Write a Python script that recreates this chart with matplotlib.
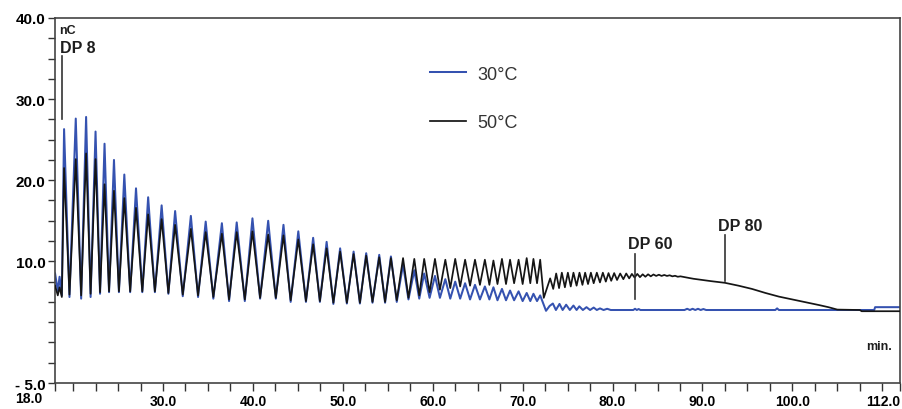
import matplotlib
matplotlib.use("Agg")
import matplotlib.pyplot as plt
from matplotlib.ticker import FixedLocator

plt.rcParams['font.family'] = ['Liberation Sans', 'DejaVu Sans']

# peak apex times (min), shared by both runs in the ladder region
peak_t = [19.0, 20.3, 21.45, 22.5, 23.5, 24.55, 25.7, 27.0, 28.35, 29.85, 31.35,
          33.1, 34.75, 36.55, 38.2, 39.95, 41.7, 43.4, 45.05, 46.7, 48.2, 49.7,
          51.2, 52.6, 54.05, 55.35, 56.7, 57.95, 59.05, 60.25, 61.4, 62.5, 63.6,
          64.7, 65.8, 66.75, 67.7, 68.6, 69.55, 70.45, 71.2, 71.95]
# valley times between consecutive peaks
valley_t = [19.6, 20.9, 21.95, 23.0, 24.0, 25.1, 26.35, 27.7, 29.1, 30.6, 32.2,
            33.9, 35.6, 37.35, 39.1, 40.8, 42.55, 44.2, 45.9, 47.45, 48.95, 50.45,
            51.9, 53.3, 54.7, 56.0, 57.3, 58.5, 59.65, 60.8, 61.95, 63.05, 64.15,
            65.25, 66.3, 67.2, 68.15, 69.05, 70.0, 70.85, 71.6]

blue_peak = [26.3, 27.6, 27.8, 26.0, 24.5, 22.5, 20.7, 19.0, 17.9, 16.9, 16.2,
             15.6, 14.9, 14.7, 14.8, 15.3, 15.0, 14.5, 13.7, 12.9, 12.4, 11.6,
             11.2, 11.0, 10.8, 10.6, 9.6, 8.9, 8.5, 8.2, 7.8, 7.5, 7.3,
             7.1, 6.9, 6.8, 6.6, 6.4, 6.3, 6.1, 6.0, 5.8]
blue_valley = [5.6, 5.4, 5.6, 6.0, 6.2, 6.2, 6.2, 6.2, 6.2, 6.0, 5.7,
               5.6, 5.4, 5.1, 5.1, 5.4, 5.4, 5.0, 5.0, 5.0, 4.75, 4.8,
               4.8, 4.9, 4.9, 5.0, 5.3, 5.4, 5.5, 5.5, 5.4, 5.4, 5.3,
               5.3, 5.3, 5.2, 5.2, 5.2, 5.1, 5.1, 5.1]

black_peak = [21.5, 22.6, 23.3, 22.6, 19.5, 18.7, 17.8, 16.6, 15.8, 15.2, 14.5,
              14.0, 13.6, 13.4, 13.6, 13.7, 13.3, 13.2, 12.7, 12.1, 11.6, 11.2,
              10.9, 10.7, 10.5, 10.4, 10.4, 10.3, 10.3, 10.3, 10.2, 10.3, 10.2,
              10.2, 10.2, 10.1, 10.3, 10.2, 10.2, 10.4, 10.3, 10.2]
black_valley = [5.9, 5.8, 6.0, 6.2, 6.3, 6.3, 6.3, 6.3, 6.3, 6.1, 5.9,
                5.8, 5.6, 5.3, 5.3, 5.5, 5.5, 5.2, 5.1, 5.1, 4.9, 4.9,
                4.9, 5.0, 5.0, 5.2, 5.5, 5.8, 6.2, 6.5, 6.7, 6.9, 7.0,
                7.1, 7.1, 7.2, 7.2, 7.3, 7.2, 7.3, 7.3]

# start of the runs, before DP 8
blue_head_t = [18.0, 18.3, 18.5, 18.75]
blue_head_v = [8.5, 6.4, 8.1, 5.8]
black_head_t = [18.0, 18.3, 18.5, 18.75]
black_head_v = [7.0, 5.8, 6.8, 5.6]

# after the step at ~72 min
blue_tail_t = [72.6, 73.0, 73.36, 73.7, 74.1, 74.45, 74.84, 75.25, 75.65, 76.0,
               76.3, 76.7, 77.1, 77.5, 77.9, 78.25, 78.6, 79.0, 79.4, 79.8,
               82.3, 82.5, 82.7, 82.9, 83.1, 88.0, 88.3, 88.6, 88.9, 89.2,
               89.5, 89.8, 90.1, 90.4, 98.1, 98.3, 98.5, 109.1, 109.2, 112.0]
blue_tail_v = [3.9, 4.5, 4.8, 4.0, 4.75, 4.0, 4.65, 4.0, 4.55, 4.0,
               4.45, 4.0, 4.35, 4.0, 4.3, 4.0, 4.2, 4.0, 4.15, 4.0,
               4.0, 4.15, 4.0, 4.12, 4.0, 4.0, 4.15, 4.0, 4.15, 4.0,
               4.15, 4.0, 4.12, 4.0, 4.0, 4.2, 4.0, 4.0, 4.35, 4.35]

black_tail_t = [72.35, 73.06, 73.4, 73.73, 74.05, 74.36, 74.7, 75.03, 75.35, 75.65,
                76.0, 76.32, 76.65, 76.95, 77.27, 77.59, 77.9, 78.25, 78.6, 78.92,
                79.25, 79.55, 79.85, 80.18, 80.5, 80.85, 81.2, 81.52, 81.85, 82.15,
                82.45, 82.75, 83.05, 83.35, 83.65, 83.95, 84.25, 84.55, 84.85, 85.15,
                85.45, 85.75, 86.05, 86.35, 86.65, 86.95, 87.25, 87.55, 88.0, 88.5,
                89.0, 90.0, 91.0, 92.5, 94.0, 95.5, 97.0, 98.5, 100.0, 101.5,
                103.0, 104.0, 105.0, 107.5, 107.7, 112.0]
black_tail_v = [5.5, 7.9, 6.6, 8.5, 6.7, 8.6, 6.8, 8.6, 6.9, 8.6,
                7.0, 8.6, 7.1, 8.6, 7.2, 8.6, 7.3, 8.6, 7.4, 8.6,
                7.5, 8.55, 7.6, 8.55, 7.7, 8.5, 7.8, 8.5, 7.9, 8.45,
                8.0, 8.45, 8.05, 8.4, 8.1, 8.4, 8.15, 8.38, 8.2, 8.35,
                8.2, 8.32, 8.2, 8.28, 8.15, 8.22, 8.1, 8.15, 8.05, 7.95,
                7.85, 7.7, 7.55, 7.35, 7.0, 6.6, 6.1, 5.65, 5.3, 4.95,
                4.6, 4.35, 4.05, 4.0, 3.85, 3.85]

x_major = [18, 30, 40, 50, 60, 70, 80, 90, 100, 112]
x_labels = ['', '30.0', '40.0', '50.0', '60.0', '70.0', '80.0', '90.0', '100.0', '112.0']
x_minor = [20, 22.5, 25, 27.5, 32.5, 35, 37.5, 42.5, 45, 47.5, 52.5, 55, 57.5,
           62.5, 65, 67.5, 72.5, 75, 77.5, 82.5, 85, 87.5, 92.5, 95, 97.5,
           102.5, 105, 107.5, 110]
y_major = [40, 30, 20, 10, -5]
y_labels = ['40.0', '30.0', '20.0', '10.0', '- 5.0']
y_minor = [37.5, 35, 32.5, 27.5, 25, 22.5, 17.5, 15, 12.5, 7.5, 5, 2.5, 0, -2.5]


def trace(head_t, head_v, pk, vl, tail_t, tail_v):
    t = list(head_t)
    v = list(head_v)
    for i in range(len(peak_t)):
        t.append(peak_t[i])
        v.append(pk[i])
        if i < len(valley_t):
            t.append(valley_t[i])
            v.append(vl[i])
    return t + tail_t, v + tail_v


bt, bv = trace(blue_head_t, blue_head_v, blue_peak, blue_valley, blue_tail_t, blue_tail_v)
kt, kv = trace(black_head_t, black_head_v, black_peak, black_valley, black_tail_t, black_tail_v)

fig = plt.figure(figsize=(9.03, 4.10), dpi=100)
ax = fig.add_axes([0.061, 0.0634, 0.936, 0.8903])

blue = '#3552b0'
ax.plot(bt, bv, color=blue, lw=1.45, label='30°C', zorder=2, solid_joinstyle='round')
ax.plot(kt, kv, color='#151515', lw=1.25, label='50°C', zorder=3, solid_joinstyle='round')

ax.set_xlim(18, 112)
ax.set_ylim(-5, 40)

ax.xaxis.set_major_locator(FixedLocator(x_major))
ax.xaxis.set_minor_locator(FixedLocator(x_minor))
ax.set_xticklabels(x_labels)
ax.yaxis.set_major_locator(FixedLocator(y_major))
ax.yaxis.set_minor_locator(FixedLocator(y_minor))
ax.set_yticklabels(y_labels)

ax.tick_params(axis='both', which='both', direction='out', color='#333333', width=1.0)
ax.tick_params(axis='x', which='both', length=6, pad=2)
ax.tick_params(axis='y', which='both', length=5, pad=2)
for lab in ax.get_xticklabels():
    lab.set_fontsize(10)
    lab.set_fontweight('bold')
for lab in ax.get_yticklabels():
    lab.set_fontsize(11)
    lab.set_fontweight('bold')
ax.get_xticklabels()[-1].set_ha('right')

# first x label sits left of the axis corner
ax.annotate('18.0', xy=(18, 0), xycoords=('data', 'axes fraction'),
            xytext=(-19, -5.8), textcoords='offset points', ha='center', va='top',
            fontsize=10, fontweight='bold')

for s in ax.spines.values():
    s.set_color('#444444')
    s.set_linewidth(1.2)

txt = '#1e1e1e'
ax.text(18.45, 38.5, 'nC', fontsize=9, fontweight='bold', color=txt, ha='left', va='center')
ax.text(18.55, 36.3, 'DP 8', fontsize=11.5, fontweight='bold', color=txt, ha='left', va='center')
ax.plot([18.78, 18.78], [27.6, 35.3], color='#333333', lw=1.2)
ax.text(81.74, 12.16, 'DP 60', fontsize=11.5, fontweight='bold', color=txt, ha='left', va='center')
ax.plot([82.5, 82.5], [5.4, 10.9], color='#333333', lw=1.2, zorder=4)
ax.text(91.75, 14.4, 'DP 80', fontsize=11.5, fontweight='bold', color=txt, ha='left', va='center')
ax.plot([92.45, 92.45], [7.6, 13.2], color='#333333', lw=1.2, zorder=4)
ax.text(111.1, -0.43, 'min.', fontsize=9, fontweight='bold', color=txt, ha='right', va='center')

leg = ax.legend(frameon=False, loc='upper left', bbox_to_anchor=(0.435, 0.889),
                borderaxespad=0, fontsize=13, handlelength=2.0, handletextpad=0.6,
                labelspacing=1.75)
for t in leg.get_texts():
    t.set_color('#333333')

fig.savefig('out.png', dpi=100)
